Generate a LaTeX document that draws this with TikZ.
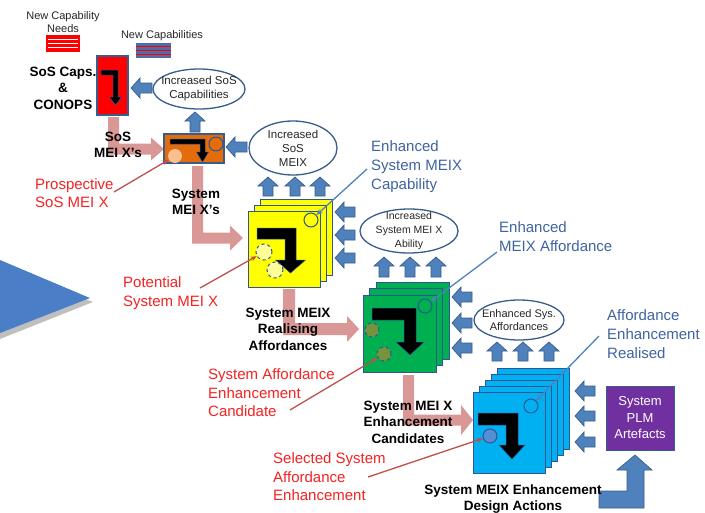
\documentclass[tikz,border=0pt]{standalone}
\usepackage{fontspec}
\setmainfont{Liberation Sans}
\usetikzlibrary{arrows.meta,shapes.geometric}

\definecolor{arrowblue}{HTML}{4F81BD}
\definecolor{edgeblue}{HTML}{385D8A}
\definecolor{deepblue}{HTML}{2F5597}
\definecolor{flowpink}{HTML}{D99795}
\definecolor{notered}{HTML}{F52222}
\definecolor{noteline}{HTML}{C0504D}
\definecolor{noteblue}{HTML}{3F64A2}
\definecolor{boxorange}{HTML}{E46C0A}
\definecolor{boxyellow}{HTML}{FFFF00}
\definecolor{boxgreen}{HTML}{00B050}
\definecolor{boxcyan}{HTML}{00B0F0}
\definecolor{boxpurple}{HTML}{7030A0}
\definecolor{peach}{HTML}{FAC090}
\definecolor{paleyellow}{HTML}{FFFF99}
\definecolor{olivegreen}{HTML}{77933C}
\definecolor{midblue}{HTML}{558ED5}
\definecolor{slateblue}{HTML}{4F6CA8}
\definecolor{wedgeblue}{HTML}{4A7EC6}

\tikzset{
  blockarrow/.style={fill=arrowblue, draw=edgeblue, line width=0.7pt, line join=miter},
  flow/.style={fill=flowpink, draw=none},
  elbowstyle/.style={fill=black, draw=deepblue, line width=0.5pt},
  layer/.style={draw=deepblue, line width=1pt},
  frontcard/.style={layer, anchor=north west, inner sep=0pt},
  bubble/.style={ellipse, draw=edgeblue, line width=1.3pt, fill=white, inner sep=0pt},
  bubbletext/.style={align=center, inner sep=0pt, text=black!85, font=\fontsize{11.5}{14}\selectfont},
  steplabel/.style={align=center, inner sep=0pt, font=\fontsize{13.5}{16.5}\selectfont\bfseries},
  smalltitle/.style={align=center, inner sep=0pt, text=black!85, font=\fontsize{11}{13}\selectfont},
  rednote/.style={align=left, anchor=west, inner sep=0pt, text=notered, font=\fontsize{15}{18.5}\selectfont},
  bluenote/.style={align=left, anchor=west, inner sep=0pt, text=noteblue, font=\fontsize{15}{19}\selectfont},
  redlink/.style={draw=noteline, line width=1.3pt, -{Stealth[length=6pt,width=5pt]}},
  bluelink/.style={draw=arrowblue, line width=1.3pt, -{Stealth[length=6pt,width=5pt]}},
  marker/.style={circle, inner sep=0pt, minimum size=14pt, draw=deepblue, line width=1pt},
}

% up-pointing block arrow: centre x, top y, bottom y
\newcommand\blockup[3]{%
  \draw[blockarrow] (#1,#2) -- (#1+10,#2+9) -- (#1+5,#2+9) -- (#1+5,#3) -- (#1-5,#3)
    -- (#1-5,#2+9) -- (#1-10,#2+9) -- cycle;}
% left-pointing block arrow: tip x, tail x, centre y
\newcommand\blockleft[3]{%
  \draw[blockarrow] (#1,#3) -- (#1+9,#3-10) -- (#1+9,#3-5) -- (#2,#3-5) -- (#2,#3+5)
    -- (#1+9,#3+5) -- (#1+9,#3+10) -- cycle;}
% black turn-down arrow: bar start x, bar top y, thickness, shaft left x, tip y, head half width, head length
\newcommand\elbowarrow[7]{%
  \draw[elbowstyle] (#1,#2) -- (#4+#3,#2) -- (#4+#3,#5-#7) -- (#4+#3/2+#6,#5-#7) -- (#4+#3/2,#5)
    -- (#4+#3/2-#6,#5-#7) -- (#4,#5-#7) -- (#4,#2+#3) -- (#1,#2+#3) -- cycle;}
% pink down-then-right flow: shaft left x, top y, width, run centre y, tip x, head half height, head length
\newcommand\flowbend[7]{%
  \fill[flow] (#1,#2) -- (#1+#3,#2) -- (#1+#3,#4-#3/2) -- (#5-#7,#4-#3/2) -- (#5-#7,#4-#6) -- (#5,#4)
    -- (#5-#7,#4+#6) -- (#5-#7,#4+#3/2) -- (#1,#4+#3/2) -- cycle;}

\begin{document}
\begin{tikzpicture}[x=1pt,y=-1pt]
\useasboundingbox (0,0) rectangle (705,512);
\clip (0,0) rectangle (705,512);
\fill[white] (0,0) rectangle (705,512);

% large wedge on the left edge
\fill[black, opacity=0.25] (0,264) -- (93,302) -- (0,339) -- cycle;
\fill[wedgeblue] (0,260) -- (90,298) -- (0,333) -- cycle;
\draw[white, opacity=0.5, line width=0.6pt] (0,259) -- (89,297);

% pink flows between stages
\flowbend{108}{117}{11}{149}{164}{11.5}{13}
\flowbend{192}{166}{11}{238}{243}{12.5}{13}
\flowbend{283}{289}{12}{329}{359}{13}{12}
\flowbend{403}{375}{11}{420}{473}{15}{12}

% striped capability bars
\fill[red] (46,35) rectangle (80,52);
\foreach \yy in {39.5,43.5,47.5} \draw[white, line width=1.3pt] (48,\yy) -- (78,\yy);
\fill[slateblue] (136,43) rectangle (171,58);
\foreach \yy in {46.5,50.5,54.5} \draw[red, line width=1.3pt] (136,\yy) -- (171,\yy);
\node[smalltitle] (needs) at (63,22) {New Capability\\Needs};
\node[smalltitle] (newcaps) at (162,36) {New Capabilities};

% SoS capabilities box
\node[draw=edgeblue, line width=1.2pt, fill=red, minimum width=31pt, minimum height=59pt, inner sep=0pt] (sos) at (112.5,85.5) {};
\elbowarrow{101}{70}{5}{113}{105}{6}{8}
\node[steplabel] (soscaps) at (63,88) {SoS Caps.\\\&\\CONOPS};

% SoS MEI X box
\node[draw=edgeblue, line width=1.2pt, fill=boxorange, minimum width=60pt, minimum height=29pt, inner sep=0pt] (orange) at (194,148.5) {};
\elbowarrow{170}{139}{5}{200}{162}{6}{10}
\node[marker, fill=peach, draw=none] (pc) at (175,156) {};
\node[marker, fill=boxorange] (oc) at (216,144) {};

% yellow stack
\draw[layer, fill=boxyellow] (260,199) rectangle ++(72,76);
\draw[layer, fill=boxyellow] (254,205) rectangle ++(72,76);
\node[frontcard, fill=boxyellow, minimum width=72pt, minimum height=76pt] (ylw) at (248,211) {};
\elbowarrow{257}{228}{11}{285}{273}{15}{13}
\node[marker, fill=boxyellow] (yo) at (311,220) {};
\node[marker, fill=paleyellow, dashed, minimum size=16pt] (yc1) at (264,252) {};
\node[marker, fill=paleyellow, dashed, minimum size=16pt] (yc2) at (275,270) {};

% green stack
\draw[layer, fill=boxgreen] (376,282) rectangle ++(73,77);
\draw[layer, fill=boxgreen] (369.5,288.5) rectangle ++(73,77);
\node[frontcard, fill=boxgreen, minimum width=73pt, minimum height=77pt] (grn) at (363,295) {};
\elbowarrow{372}{308}{12}{404}{355}{14}{13}
\node[marker, fill=boxgreen] (go) at (425,306) {};
\node[marker, fill=olivegreen, dashed] (gc1) at (372,330) {};
\node[marker, fill=olivegreen, dashed] (gc2) at (384,354) {};

% cyan stack
\foreach \k in {4,3,2,1}
  \draw[layer, fill=boxcyan] (473+6*\k,392-6*\k) rectangle ++(72,81);
\node[frontcard, fill=boxcyan, minimum width=72pt, minimum height=81pt] (cyn) at (473,392) {};
\elbowarrow{478}{413}{12}{506}{459}{13}{14}
\node[marker, fill=boxcyan] (co) at (531,406) {};
\node[marker, fill=midblue] (cf) at (490,436) {};

% PLM artefacts
\node[fill=boxpurple, draw=edgeblue, line width=1pt, minimum width=68pt, minimum height=64pt, inner sep=0pt,
      text=white, align=center, font=\fontsize{13}{16.5}\selectfont] (plm) at (640,418) {System\\PLM\\Artefacts};
\draw[blockarrow] (599,491) -- (627,491) -- (627,470) -- (617,470) -- (635,455) -- (652,470)
  -- (644,470) -- (644,508) -- (599,508) -- cycle;

% ellipses
\node[bubble, minimum width=92pt, minimum height=40pt] (e1) at (199,89) {};
\node[bubbletext] at (e1) {Increased SoS\\Capabilities};
\node[bubble, minimum width=88pt, minimum height=54pt] (e2) at (293,148) {};
\node[bubbletext] at (e2) {Increased\\SoS\\MEIX};
\node[bubble, minimum width=98pt, minimum height=44pt] (e3) at (409,231) {};
\node[bubbletext, font=\fontsize{10.5}{14}\selectfont] at (e3) {Increased\\System MEI X\\Ability};
\node[bubble, minimum width=90pt, minimum height=40pt] (e4) at (519,320) {};
\node[bubbletext, font=\fontsize{11}{13}\selectfont] at (e4) {Enhanced Sys.\\Affordances};

% blue feedback arrows
\blockleft{131}{152}{88}
\blockup{195}{112}{132}
\blockleft{226}{247}{147}
\foreach \cx in {268,295,320} {\blockup{\cx}{177}{196}}
\foreach \cy in {212,235,258} {\blockleft{335}{355}{\cy}}
\foreach \cx in {384,410,436} {\blockup{\cx}{257}{277}}
\foreach \cy in {297,323,348} {\blockleft{452}{472}{\cy}}
\foreach \cx in {497,523,549} {\blockup{\cx}{342}{361}}
\foreach \cy in {391,416,442} {\blockleft{575}{595}{\cy}}

% stage labels
\node[steplabel] (sosmei) at (118,145) {SoS\\MEI X's};
\node[steplabel] (sysmei) at (196,202) {System\\MEI X's};
\node[steplabel] (realise) at (288,329) {System MEIX\\Realising\\Affordances};
\node[steplabel] (cand) at (408,422) {System MEI X\\Enhancement\\Candidates};
\node[steplabel] (design) at (513,499) {System MEIX Enhancement\\Design Actions};

% red annotations
\node[rednote] (prosp) at (35,193) {Prospective\\SoS MEI X};
\node[rednote] (potent) at (123,293) {Potential\\System MEI X};
\node[rednote] (sysaff) at (208,393) {System Affordance\\Enhancement\\Candidate};
\node[rednote] (selected) at (273,477) {Selected System\\Affordance\\Enhancement};
\coordinate (prosp-tail) at (114,192);
\coordinate (potent-tail) at (200,288);
\coordinate (sysaff-tail) at (290,410);
\coordinate (selected-tail) at (368,477);
\draw[redlink] (prosp-tail) -- (pc);
\draw[redlink] (potent-tail) -- (yc1);
\draw[redlink] (sysaff-tail) -- (gc2);
\draw[redlink] (selected-tail) -- (cf);

% blue annotations
\node[bluenote] (enhcap) at (371,167) {Enhanced\\System MEIX\\Capability};
\node[bluenote] (enhaff) at (499,237) {Enhanced\\MEIX Affordance};
\node[bluenote] (affreal) at (607,334) {Affordance\\Enhancement\\Realised};
\coordinate (enhcap-tail) at (367,169);
\coordinate (enhaff-tail) at (497,252);
\coordinate (affreal-tail) at (599,336);
\draw[bluelink] (enhcap-tail) -- (yo);
\draw[bluelink] (enhaff-tail) -- (go);
\draw[bluelink] (affreal-tail) -- (co);
\end{tikzpicture}
\end{document}
